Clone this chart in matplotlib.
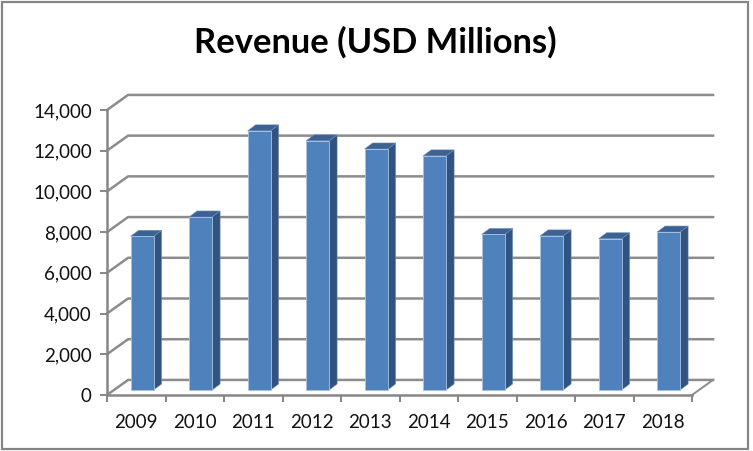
import matplotlib
matplotlib.use("Agg")
import matplotlib.pyplot as plt
from matplotlib.patches import Polygon, Rectangle

years = ['2009','2010','2011','2012','2013','2014','2015','2016','2017','2018']
revenue = [7550, 8500, 12730, 12240, 11840, 11500, 7640, 7570, 7430, 7760]
y_ticks = [0, 2000, 4000, 6000, 8000, 10000, 12000, 14000]

W, H = 753, 451
plt.rcParams['font.family'] = ['Lato', 'DejaVu Sans']

fig = plt.figure(figsize=(W/100, H/100), dpi=100)
fig.patch.set_facecolor('white')

# outer frame of the chart
fig.add_artist(Rectangle((2/W, 2/H), 746/W, 447/H, transform=fig.transFigure,
                         fill=False, edgecolor='#868686', linewidth=1.6))

# front plane of the fake 3D box
ax = fig.add_axes([107/W, 1-395/H, 585/W, 285/H])
ax.set_xlim(0, 10)
ax.set_ylim(0, 14000)
ax.patch.set_visible(False)
for s in ['top', 'right']:
    ax.spines[s].set_visible(False)
for s in ['left', 'bottom']:
    ax.spines[s].set_color('#868686')
    ax.spines[s].set_linewidth(1.8)

# depth of the box and of the bars, in data units
wall_dx = 0.36
wall_dy = 740
bar_dx = 0.137
bar_dy = 295
bar_w = 0.393
shift_x = 0.1
shift_y = 245

grid_c = '#8c8c8c'
for v in y_ticks:
    ax.plot([0, wall_dx, 10 + wall_dx], [v, v + wall_dy, v + wall_dy],
            color=grid_c, lw=1.8, clip_on=False, zorder=1)
ax.plot([10, 10 + wall_dx], [0, wall_dy], color=grid_c, lw=1.4, clip_on=False, zorder=1)

for i, val in enumerate(revenue):
    x0 = i + 0.5 + shift_x - bar_w/2
    x1 = x0 + bar_w
    y0 = shift_y
    y1 = val + shift_y
    ax.add_patch(Polygon([(x1, y0), (x1 + bar_dx, y0 + bar_dy), (x1 + bar_dx, y1 + bar_dy), (x1, y1)],
                         facecolor='#31537f', edgecolor='#6f8db5', lw=0.4, clip_on=False, zorder=3))
    ax.add_patch(Polygon([(x0, y1), (x1, y1), (x1 + bar_dx, y1 + bar_dy), (x0 + bar_dx, y1 + bar_dy)],
                         facecolor='#3a6295', edgecolor='#6f8db5', lw=0.4, clip_on=False, zorder=3))
    ax.add_patch(Rectangle((x0, y0), bar_w, y1 - y0, facecolor='#4f81bd',
                           edgecolor='#a9c2e0', lw=0.6, clip_on=False, zorder=4))

ax.set_yticks(y_ticks)
ax.set_yticklabels([f'{v:,}' for v in y_ticks])
ax.set_xticks(range(11))
ax.set_xticklabels([])
ax.set_xticks([i + 0.5 for i in range(10)], minor=True)
ax.set_xticklabels(years, minor=True)
ax.tick_params(axis='x', which='major', length=5, width=1.4, color='#868686')
ax.tick_params(axis='x', which='minor', length=0, pad=14, labelsize=13.5, labelcolor='#111111')
ax.tick_params(axis='y', length=5, width=1.4, color='#868686', labelsize=13.5, labelcolor='#111111', pad=6)

fig.text(375.5/W, 1-42/H, 'Revenue (USD Millions)', ha='center', va='center',
         fontsize=24.8, fontweight='bold', color='black')

fig.savefig('out.png', dpi=100)
